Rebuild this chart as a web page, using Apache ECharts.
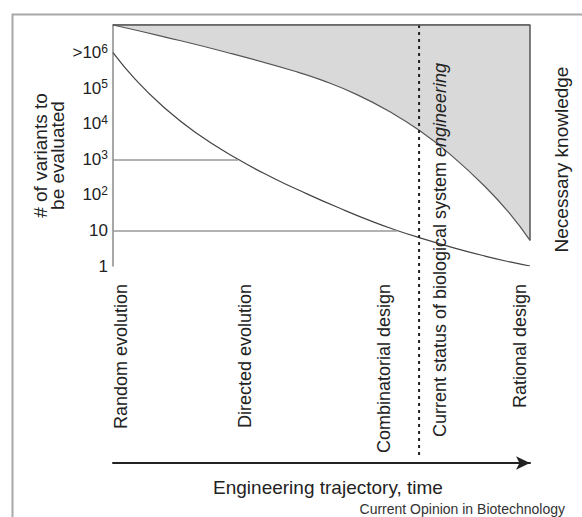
<!DOCTYPE html>
<html>
<head>
<meta charset="utf-8">
<script src="https://cdn.jsdelivr.net/npm/echarts@6/dist/echarts.min.js"></script>
<style>
html,body{margin:0;padding:0;background:#fff;}
#c{width:582px;height:517px;}
</style>
</head>
<body>
<div id="c"></div>
<script>
// ---- data ----
const stageNames = ['Random evolution', 'Directed evolution', 'Combinatorial design', 'Rational design'];
const stagePos = [1.9, 31.7, 65, 97.6];
const statusPos = 73.4;          // dotted line: current status
const statusLabelPos = 78.4;
const statusText = 'Current status of biological system {i|engineering}';
const yTickValues = [1, 10, 100, 1000, 1e4, 1e5, 1e6];
const yTickLabels = ['1', '10', '10{s|2}', '10{s|3}', '10{s|4}', '10{s|5}', '>10{s|6}'];
const variantX = [0, 5.3, 11.8, 19.7, 30, 38.4, 46.5, 54.4, 62.4, 68.1, 73.6, 81.5, 89.2, 95.2, 100];
const variantY = [1e6, 1.8e5, 3.2e4, 5800, 1000, 300, 107, 42, 17.4, 10, 6.2, 3.3, 1.9, 1.3, 1];
const knowledgeX = [0, 11.8, 27.6, 43.6, 50.4, 58.5, 66.4, 73.6, 80.8, 89.2, 95.2, 100];
const knowledgeY = [0, 0.047, 0.115, 0.192, 0.231, 0.289, 0.36, 0.439, 0.536, 0.67, 0.784, 0.894];
const guideLevels = [1000, 10];
const guideEnds = [30, 68.1];

const FONT = "'Liberation Sans', Arial, Helvetica, sans-serif";
const chart = echarts.init(document.getElementById('c'), null, {renderer: 'svg'});

const variantData = variantX.map((x, i) => [x, variantY[i]]);
const knowledgeData = knowledgeX.map((x, i) => [x, knowledgeY[i]]);
const kEnd = knowledgeY[knowledgeY.length - 1];

const option = {
  animation: false,
  backgroundColor: '#fff',
  textStyle: {fontFamily: FONT},
  title: {
    text: 'Current Opinion in Biotechnology',
    right: 12, top: 497,
    textStyle: {fontSize: 14, fontWeight: 'normal', color: '#333', fontFamily: FONT}
  },
  grid: [
    {left: 113, right: 52, top: 25, bottom: 251},
    {left: 113, right: 52, top: 266, bottom: 54}
  ],
  xAxis: [
    {
      type: 'value', gridIndex: 0, min: 0, max: 100,
      axisLine: {show: true, lineStyle: {color: '#8a8a8a', width: 1.5}},
      axisTick: {show: false},
      splitLine: {show: false},
      axisLabel: {
        customValues: stagePos,
        rotate: 90, margin: 18,
        fontSize: 18, color: '#222', fontFamily: FONT,
        formatter: v => stageNames[stagePos.indexOf(v)] || ''
      }
    },
    {
      type: 'value', gridIndex: 1, min: 0, max: 100,
      axisLine: {show: true, symbol: ['none', 'arrow'], symbolSize: [10, 14],
        lineStyle: {color: '#222', width: 2}},
      axisTick: {show: false}, axisLabel: {show: false}, splitLine: {show: false},
      name: 'Engineering trajectory, time', nameLocation: 'middle', nameGap: 15,
      nameTextStyle: {fontSize: 19, color: '#222', fontFamily: FONT, padding: [0, 0, 0, 13]}
    }
  ],
  yAxis: [
    {
      type: 'log', gridIndex: 0, logBase: 10, min: 1, max: 6e6,
      axisLine: {show: true, lineStyle: {color: '#8a8a8a', width: 1.5}},
      axisTick: {show: false},
      splitLine: {show: false},
      axisLabel: {
        customValues: yTickValues,
        margin: 5, fontSize: 17, color: '#222', fontFamily: FONT,
        formatter: v => { const i = yTickValues.findIndex(t => Math.abs(t - v) / t < 1e-6); return i >= 0 ? yTickLabels[i] : ''; },
        rich: {s: {fontSize: 12, padding: [0, 0, 8, 0], color: '#222', fontFamily: FONT}}
      },
      name: '# of variants to\nbe evaluated', nameLocation: 'middle', nameRotate: 90, nameGap: 47,
      nameMoveOverlap: false,
      nameTextStyle: {fontSize: 19, lineHeight: 17, color: '#222', fontFamily: FONT, padding: [0, 20, 0, 0]}
    },
    {
      type: 'value', gridIndex: 0, position: 'right', min: 0, max: 1, inverse: true,
      axisLine: {show: false}, axisTick: {show: false}, axisLabel: {show: false}, splitLine: {show: false},
      name: 'Necessary knowledge', nameLocation: 'middle', nameRotate: 90, nameGap: 22,
      nameMoveOverlap: false,
      nameTextStyle: {fontSize: 19, color: '#222', fontFamily: FONT, padding: [0, 28, 0, 0]}
    },
    {
      type: 'value', gridIndex: 1, min: 0, max: 1, show: false
    }
  ],
  series: [
    {
      name: 'knowledge', type: 'line', xAxisIndex: 0, yAxisIndex: 1,
      data: knowledgeData, smooth: 0.5, symbol: 'none',
      lineStyle: {color: '#555', width: 1.2},
      areaStyle: {color: '#d9d9d9', opacity: 1, origin: 'start'},
      markLine: {
        silent: true, symbol: 'none', label: {show: false},
        lineStyle: {color: '#555', width: 1.5, type: 'solid'},
        data: [
          [{coord: [0, 0]}, {coord: [100, 0]}],
          [{coord: [100, 0]}, {coord: [100, kEnd]}]
        ]
      }
    },
    {
      name: 'variants', type: 'line', xAxisIndex: 0, yAxisIndex: 0,
      data: variantData, smooth: 0.5, symbol: 'none',
      lineStyle: {color: '#444', width: 1.2},
      markLine: {
        silent: true, symbol: 'none', label: {show: false},
        lineStyle: {color: '#999', width: 1.5, type: 'solid'},
        data: guideLevels.map((lv, i) => [{coord: [0, lv]}, {coord: [guideEnds[i], lv]}])
      }
    },
    {
      name: 'status-upper', type: 'line', xAxisIndex: 0, yAxisIndex: 0,
      data: [[statusPos, 1], [statusPos, 6e6]], symbol: 'none',
      lineStyle: {color: '#222', width: 2, type: [3, 4]}
    },
    {
      name: 'status-lower', type: 'line', xAxisIndex: 1, yAxisIndex: 2,
      data: [[statusPos, 0.04], [statusPos, 1]], symbol: 'none',
      lineStyle: {color: '#222', width: 2, type: [3, 4]}
    }
  ]
};
chart.setOption(option);

// place annotation text at the data position of the status label
const p = chart.convertToPixel({xAxisIndex: 0, yAxisIndex: 0}, [statusLabelPos, 1]);
chart.setOption({
  graphic: [
    {
      type: 'rect', left: 10, top: 12, silent: true, z: -1,
      shape: {x: 0, y: 0, width: 600, height: 600},
      style: {fill: 'none', stroke: '#a8a8a8', lineWidth: 2}
    },
    {
      type: 'text', x: p[0], y: 250, rotation: Math.PI / 2, silent: true, z: 10,
      style: {
        text: statusText, fontSize: 18, fontFamily: FONT, fill: '#222',
        align: 'center', verticalAlign: 'middle',
        rich: {i: {fontStyle: 'italic', fontSize: 18, fontFamily: FONT, fill: '#222'}}
      }
    }
  ]
});
</script>
</body>
</html>
